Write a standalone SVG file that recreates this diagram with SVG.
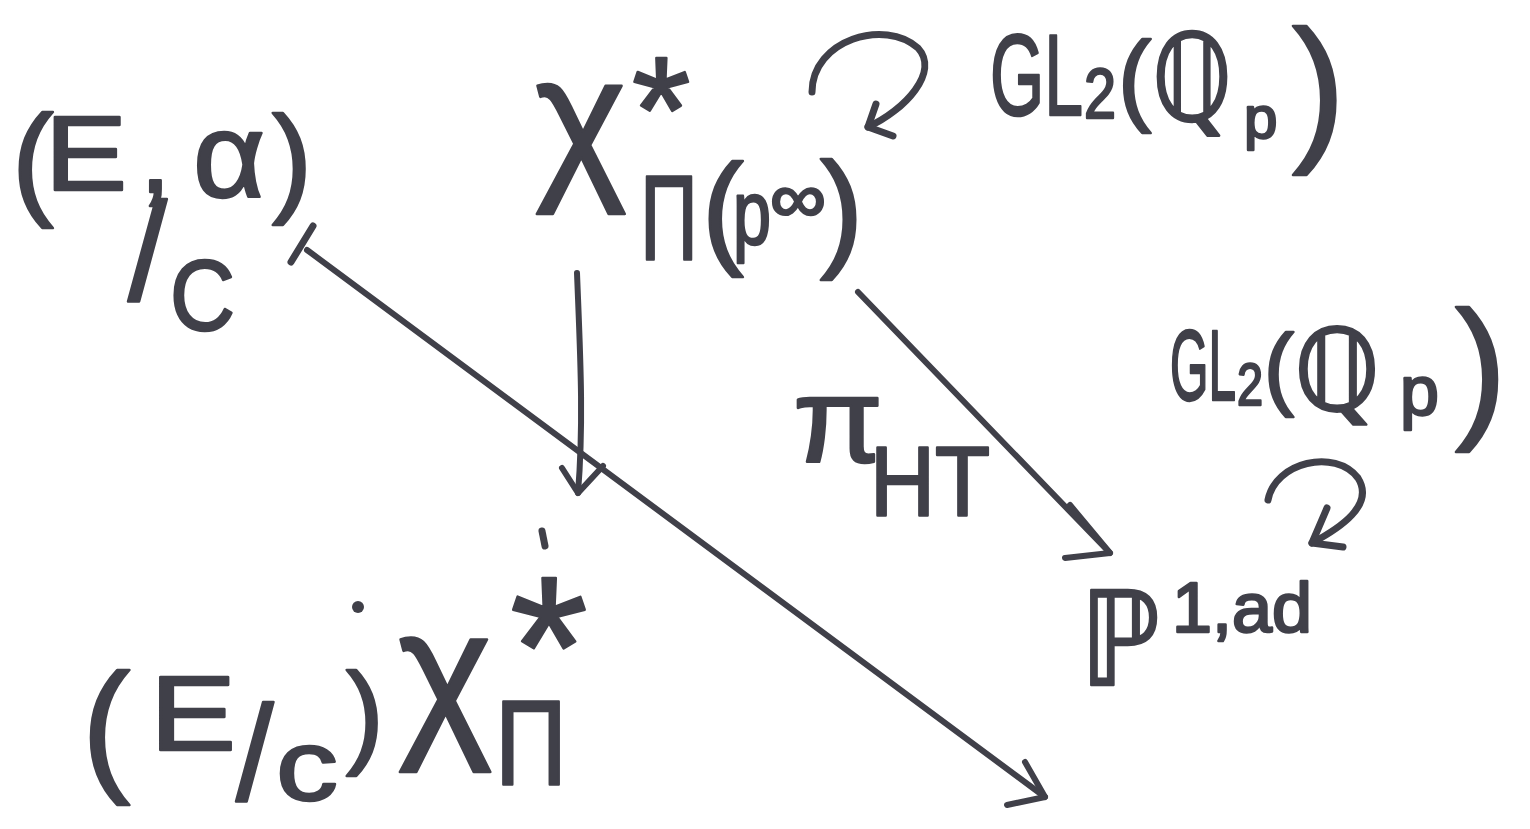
<svg xmlns="http://www.w3.org/2000/svg" width="1530" height="829" viewBox="0 0 1530 829">
<defs>
<style>
.t{font-family:"Liberation Sans","DejaVu Sans",sans-serif;fill:#404049;stroke:#404049;stroke-width:2.5;stroke-linejoin:round;}
.ln{fill:none;stroke:#404049;stroke-width:6;stroke-linecap:round;stroke-linejoin:round;}
.lp{fill:none;stroke:#404049;stroke-width:7;stroke-linecap:round;stroke-linejoin:round;}
</style>
</defs>
<rect width="1530" height="829" fill="#ffffff"/>

<g id="node-E-alpha">
<text class="t" x="12" y="202" font-size="125">(</text>
<text class="t" x="45" y="190" font-size="105" textLength="82" lengthAdjust="spacingAndGlyphs">E</text>
<text class="t" x="140" y="192" font-size="110">,</text>
<text class="t" x="193" y="197" font-size="120" textLength="72" lengthAdjust="spacingAndGlyphs">α</text>
<text class="t" x="272" y="200" font-size="120">)</text>
<text class="t" x="128" y="300" font-size="140">/</text>
<text class="t" x="170" y="330" font-size="100" textLength="65" lengthAdjust="spacingAndGlyphs">C</text>
</g>

<g id="node-X-Pi-pinf">
<text class="t" x="535" y="178" font-size="175">χ</text>
<text class="t" x="632" y="162" font-size="150">*</text>
<text class="t" x="640" y="260" font-size="120" textLength="58" lengthAdjust="spacingAndGlyphs">Π</text>
<text class="t" x="702" y="251" font-size="125">(</text>
<text class="t" x="733" y="244" font-size="90" textLength="38" lengthAdjust="spacingAndGlyphs">p</text>
<text class="t" x="770" y="222" font-size="70" textLength="56" lengthAdjust="spacingAndGlyphs">∞</text>
<text class="t" x="820" y="253" font-size="130">)</text>
</g>

<g id="node-GL2-top">
<text class="t" x="990" y="115" font-size="115" textLength="93" lengthAdjust="spacingAndGlyphs">GL</text>
<text class="t" x="1084" y="118" font-size="70" textLength="32" lengthAdjust="spacingAndGlyphs">2</text>
<text class="t" x="1118" y="112" font-size="100">(</text>
<text class="t" x="1152" y="120" font-size="120" textLength="80" lengthAdjust="spacingAndGlyphs">ℚ</text>
<text class="t" x="1244" y="138" font-size="60">p</text>
<text class="t" x="1292" y="142" font-size="160">)</text>
</g>

<g id="node-GL2-right">
<text class="t" x="1170" y="400" font-size="100" textLength="66" lengthAdjust="spacingAndGlyphs">GL</text>
<text class="t" x="1237" y="405" font-size="60" textLength="26" lengthAdjust="spacingAndGlyphs">2</text>
<text class="t" x="1264" y="398" font-size="90">(</text>
<text class="t" x="1294" y="410" font-size="113" textLength="86" lengthAdjust="spacingAndGlyphs">ℚ</text>
<text class="t" x="1400" y="415" font-size="70">p</text>
<text class="t" x="1455" y="420" font-size="155">)</text>
</g>

<g id="node-P1ad">
<text class="t" x="1080" y="685" font-size="130" textLength="80" lengthAdjust="spacingAndGlyphs">ℙ</text>
<text class="t" x="1172" y="632" font-size="70" textLength="140" lengthAdjust="spacingAndGlyphs">1,ad</text>
</g>

<g id="node-E-C-X-Pi">
<text class="t" x="82" y="775" font-size="145">(</text>
<text class="t" x="150" y="750" font-size="105" textLength="86" lengthAdjust="spacingAndGlyphs">E</text>
<text class="t" x="236" y="800" font-size="135">/</text>
<text class="t" x="276" y="800" font-size="100" textLength="62" lengthAdjust="spacingAndGlyphs">c</text>
<text class="t" x="346" y="752" font-size="113">)</text>
<circle cx="358" cy="607" r="6" fill="#404049"/>
<text class="t" x="398" y="735" font-size="180">χ</text>
<text class="t" x="510" y="716" font-size="200">*</text>
<text class="t" x="495" y="785" font-size="120" textLength="72" lengthAdjust="spacingAndGlyphs">Π</text>
<path class="lp" d="M542,531 L545,546"/>
</g>

<g id="label-piHT">
<text class="t" x="793" y="462" font-size="120" textLength="90" lengthAdjust="spacingAndGlyphs">π</text>
<text class="t" x="870" y="515" font-size="98" textLength="120" lengthAdjust="spacingAndGlyphs">HT</text>
</g>

<g id="connectors">
<path class="ln" d="M577,273 C580,350 584,420 578,493"/>
<path class="ln" d="M562,468 L578,493 L603,466"/>
<path class="ln" d="M858,292 L1110,553"/>
<path class="ln" d="M1070,505 L1110,553 L1065,558"/>
<path class="ln" d="M307,250 L1045,797"/>
<path class="lp" d="M313,226 L291,262"/>
<path class="ln" d="M1025,762 L1045,797 L1007,805"/>
<path class="lp" d="M812,92 C812,40 885,18 918,48 C940,72 905,110 868,127"/>
<path class="lp" d="M876,104 L868,127 L893,136"/>
<path class="lp" d="M1268,500 C1275,462 1335,448 1358,478 C1375,505 1340,528 1312,543"/>
<path class="lp" d="M1327,508 L1312,543 L1343,547"/>
</g>
</svg>
